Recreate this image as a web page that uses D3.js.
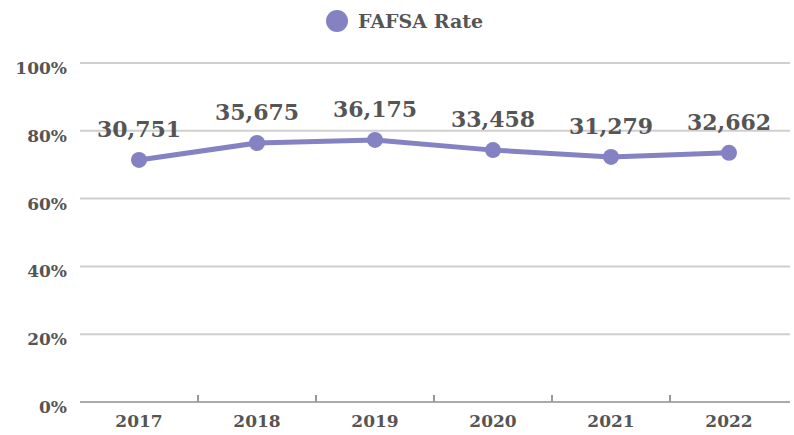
<!DOCTYPE html>
<html>
<head>
<meta charset="utf-8">
<script src="https://cdn.jsdelivr.net/npm/d3@7"></script>
<style>
  body { margin: 0; background: #fff; }
</style>
</head>
<body>
<div class="chart"></div>
<script>
var years = ["2017", "2018", "2019", "2020", "2021", "2022"];
var rates = [71.4, 76.4, 77.3, 74.3, 72.3, 73.5];
var counts = ["30,751", "35,675", "36,175", "33,458", "31,279", "32,662"];
var yTicks = [0, 20, 40, 60, 80, 100];

var w = 794;
var h = 435;
var plotLeft = 80, plotRight = 788, plotTop = 63, plotBottom = 402;
var textColor = "#555";
var lineColor = "#8482c2";
var fontFam = "'DejaVu Serif', serif";

var svg = d3.select(".chart")
            .append("svg")
            .attr("width", w)
            .attr("height", h);

var x = d3.scaleBand()
          .domain(years)
          .range([plotLeft, plotRight]);

var y = d3.scaleLinear()
          .domain([0, 100])
          .range([plotBottom, plotTop]);

// gridlines
svg.selectAll("line.grid")
    .data(yTicks.filter(function(d) { return d > 0; }))
    .enter()
    .append("line")
    .attr("class", "grid")
    .attr("x1", plotLeft)
    .attr("x2", plotRight + 2)
    .attr("y1", function(d) { return y(d); })
    .attr("y2", function(d) { return y(d); })
    .attr("stroke", "#cfcfcf")
    .attr("stroke-width", 2);

// y labels
svg.selectAll("text.ylab")
    .data(yTicks)
    .enter()
    .append("text")
    .attr("class", "ylab")
    .text(function(d) { return d + "%"; })
    .attr("x", 67)
    .attr("y", function(d) { return y(d) + 11; })
    .attr("text-anchor", "end")
    .attr("font-family", fontFam)
    .attr("font-weight", "bold")
    .attr("font-size", "17px")
    .attr("fill", textColor);

// x axis
var xAxis = d3.axisBottom(x).tickSize(0).tickSizeOuter(0).tickPadding(13);
var gx = svg.append("g")
    .attr("transform", "translate(0," + plotBottom + ")")
    .call(xAxis);
gx.select(".domain").attr("stroke", "#aaa").attr("stroke-width", 2)
  .attr("d", "M" + plotLeft + ",0H" + (plotRight + 2));
gx.selectAll("text")
  .attr("font-family", fontFam)
  .attr("font-weight", "bold")
  .attr("font-size", "17px")
  .attr("fill", textColor);

// band boundary ticks
svg.selectAll("line.btick")
    .data(years.slice(1))
    .enter()
    .append("line")
    .attr("class", "btick")
    .attr("x1", function(d) { return x(d); })
    .attr("x2", function(d) { return x(d); })
    .attr("y1", plotBottom - 7)
    .attr("y2", plotBottom)
    .attr("stroke", "#999")
    .attr("stroke-width", 2);

var cx = function(d, i) { return x(years[i]) + x.bandwidth() / 2; };

var line = d3.line()
    .x(function(d, i) { return cx(d, i); })
    .y(function(d) { return y(d); });

svg.append("path")
    .datum(rates)
    .attr("d", line)
    .attr("fill", "none")
    .attr("stroke", lineColor)
    .attr("stroke-width", 5);

svg.selectAll("circle.pt")
    .data(rates)
    .enter()
    .append("circle")
    .attr("class", "pt")
    .attr("cx", cx)
    .attr("cy", function(d) { return y(d); })
    .attr("r", 8)
    .attr("fill", lineColor);

svg.selectAll("text.val")
    .data(rates)
    .enter()
    .append("text")
    .attr("class", "val")
    .text(function(d, i) { return counts[i]; })
    .attr("x", cx)
    .attr("y", function(d) { return y(d) - 23; })
    .attr("text-anchor", "middle")
    .attr("font-family", fontFam)
    .attr("font-weight", "bold")
    .attr("font-size", "22px")
    .attr("fill", textColor);

// legend
svg.append("circle")
    .attr("cx", 337)
    .attr("cy", 21)
    .attr("r", 11)
    .attr("fill", lineColor);

svg.append("text")
    .text("FAFSA Rate")
    .attr("x", 358)
    .attr("y", 28)
    .attr("font-family", fontFam)
    .attr("font-weight", "bold")
    .attr("font-size", "19px")
    .attr("fill", textColor);
</script>
</body>
</html>
